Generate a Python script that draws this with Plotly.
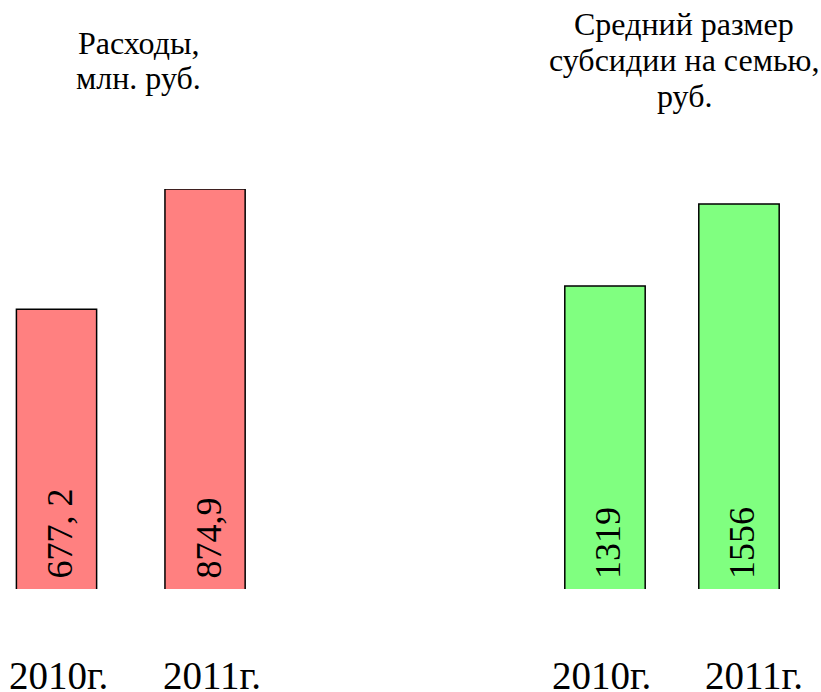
import plotly.graph_objects as go

years = ["2010г.", "2011г."]
expenses = [677.2, 874.9]
expense_labels = ["677, 2", "874,9"]
subsidy = [1319, 1556]
subsidy_labels = ["1319", "1556"]
title_left = ["Расходы,", "млн. руб."]
title_right = ["Средний размер", "субсидии на семью,", "руб."]

W, H = 821, 692
FONT = "'Liberation Serif', 'Times New Roman', Times, 'DejaVu Serif', serif"

left_range = [217.5, 874.9]
right_range = [443.3, 1599.4]

fig = go.Figure()
fig.add_trace(go.Bar(
    x=years, y=expenses, width=0.54,
    marker=dict(color="rgb(255,128,128)", line=dict(color="black", width=1.5)),
    xaxis="x", yaxis="y", showlegend=False, hoverinfo="skip"))
fig.add_trace(go.Bar(
    x=years, y=subsidy, width=0.6,
    marker=dict(color="rgb(128,255,128)", line=dict(color="black", width=1.5)),
    xaxis="x2", yaxis="y2", showlegend=False, hoverinfo="skip"))

ybot = (H - 589) / H
ytop = (H - 189) / H

axis_common = dict(showgrid=False, zeroline=False, showline=False, ticks="",
                   showticklabels=False, automargin=False)
fig.update_layout(
    width=W, height=H,
    margin=dict(l=0, r=0, t=0, b=0, autoexpand=False),
    paper_bgcolor="white", plot_bgcolor="white",
    xaxis=dict(domain=[0, 271 / W], range=[-0.3805, 1.444], **axis_common),
    xaxis2=dict(domain=[540 / W, 1], range=[-0.485, 1.612], anchor="y2", **axis_common),
    yaxis=dict(domain=[ybot, ytop], range=left_range, visible=False, automargin=False),
    yaxis2=dict(domain=[ybot, ytop], range=right_range, visible=False, anchor="x2", automargin=False),
    font=dict(family=FONT, color="black"),
)

anns = []
# value labels inside bars
for xref, yref, ymin, labels in (("x", "y", left_range[0], expense_labels),
                                 ("x2", "y2", right_range[0], subsidy_labels)):
    for yr, lab in zip(years, labels):
        anns.append(dict(text=lab, x=yr, y=ymin, xref=xref, yref=yref, textangle=-90,
                         xanchor="center", yanchor="bottom", yshift=8, xshift=3, showarrow=False,
                         font=dict(family=FONT, size=36, color="black")))
# category (year) labels under each panel
label_x = [[58.5, 211.5], [601.5, 753.5]]
for pos in label_x:
    for px, yr in zip(pos, years):
        anns.append(dict(text=yr, x=px / W, y=0, xref="paper", yref="paper",
                         xanchor="center", yanchor="bottom", yshift=-7, showarrow=False,
                         font=dict(family=FONT, size=39, color="black")))
# panel titles
for i, line in enumerate(title_left):
    anns.append(dict(text=line, x=138 / W, y=(H - (55 + 35 * i)) / H, xref="paper", yref="paper",
                     xanchor="center", yanchor="bottom", yshift=-8, showarrow=False,
                     font=dict(family=FONT, size=32, color="black")))
for i, line in enumerate(title_right):
    anns.append(dict(text=line, x=684 / W, y=(H - (36 + 36 * i)) / H, xref="paper", yref="paper",
                     xanchor="center", yanchor="bottom", yshift=-8, showarrow=False,
                     font=dict(family=FONT, size=32, color="black")))
fig.update_layout(annotations=anns)

fig.write_html("out.html", config={"displayModeBar": False},
               post_script="document.body.style.margin='0';")
